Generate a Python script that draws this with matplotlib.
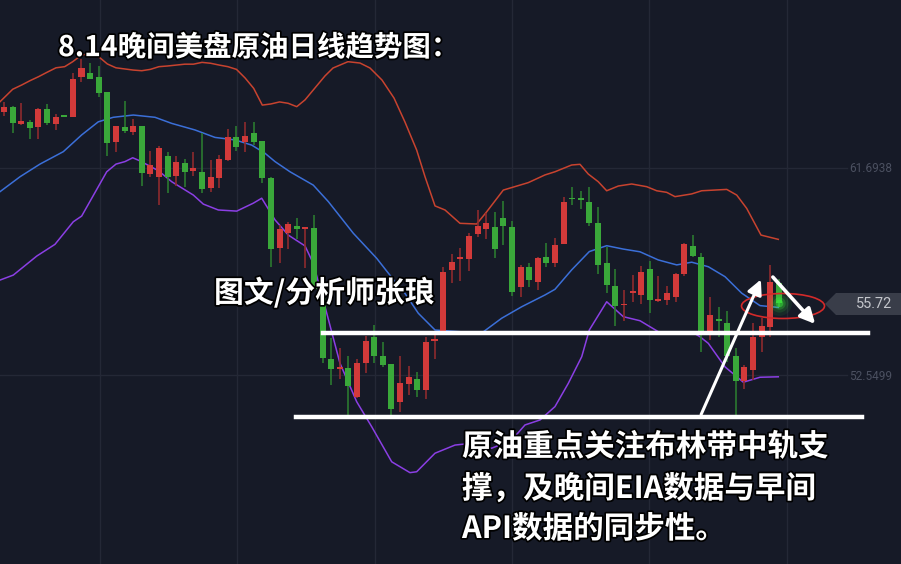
import numpy as np
import matplotlib
matplotlib.use("Agg")
import matplotlib.pyplot as plt
from matplotlib.patches import Ellipse, Polygon, FancyArrowPatch
import matplotlib.patheffects as pe

plt.rcParams['font.family'] = ['Noto Sans CJK SC', 'DejaVu Sans']

# ---------------- data ----------------
opens = [64.17, 64.42, 63.67, 63.74, 63.51, 64.30, 63.64, 64.01, 63.98, 65.72,
         65.90, 65.75, 65.08, 62.87, 63.53, 63.29, 63.58, 61.44, 61.31, 62.24,
         61.37, 61.94, 61.59, 61.54, 60.81, 61.25, 62.06, 63.09, 62.84, 63.24,
         62.91, 61.25, 58.15, 58.85, 59.15, 59.01, 59.07, 56.46, 53.25, 52.81,
         52.87, 51.59, 53.07, 54.24, 53.40, 53.02, 51.37, 52.15, 52.37, 51.89,
         54.05, 54.32, 57.20, 57.68, 57.67, 58.77, 58.99, 59.11, 59.51, 59.11,
         56.46, 57.34, 56.68, 57.76, 57.52, 58.34, 60.39, 60.39, 60.22, 59.26,
         57.49, 56.50, 55.63, 56.18, 56.09, 57.22, 55.82, 55.87, 55.99, 57.00,
         58.27, 57.78, 54.50, 55.03, 54.87, 53.39, 52.30, 52.77, 54.22, 54.69,
         56.61]
highs = [64.61, 64.45, 64.58, 63.83, 64.34, 64.54, 64.10, 64.03, 65.91, 66.53,
         66.37, 66.22, 65.08, 63.58, 64.67, 63.87, 63.58, 62.46, 62.68, 62.40,
         62.24, 62.12, 62.40, 63.24, 62.06, 62.28, 63.43, 63.56, 63.76, 63.76,
         62.91, 61.32, 59.19, 59.32, 59.48, 59.10, 59.63, 56.46, 54.17, 53.73,
         53.39, 53.25, 54.28, 54.76, 54.00, 53.02, 53.40, 52.95, 52.67, 54.22,
         54.32, 57.34, 57.90, 58.15, 58.82, 59.85, 59.70, 59.77, 60.25, 59.36,
         57.42, 57.49, 57.76, 58.38, 58.60, 60.44, 60.88, 60.69, 60.88, 60.00,
         58.23, 57.24, 56.31, 56.97, 57.37, 57.59, 56.93, 56.49, 57.08, 58.38,
         58.74, 57.93, 55.99, 55.57, 55.38, 53.73, 53.00, 54.86, 55.06, 57.42,
         56.78]
lows = [64.01, 63.27, 63.61, 63.00, 62.98, 63.62, 63.39, 63.95, 63.98, 65.51,
        65.63, 64.86, 62.25, 62.43, 63.27, 63.17, 60.91, 61.30, 60.05, 60.62,
        60.91, 60.88, 61.35, 60.61, 60.66, 60.84, 62.02, 62.47, 62.43, 62.72,
        61.03, 57.33, 57.49, 58.11, 58.55, 57.27, 56.35, 53.07, 52.11, 52.36,
        50.70, 51.52, 52.63, 53.07, 52.89, 50.75, 50.93, 51.66, 51.59, 51.47,
        53.24, 54.32, 56.63, 56.72, 57.16, 58.64, 58.57, 57.74, 58.30, 56.06,
        56.01, 56.46, 56.31, 57.31, 57.31, 58.34, 60.07, 59.89, 59.15, 57.02,
        56.19, 54.73, 54.95, 55.79, 55.69, 55.31, 55.79, 55.65, 55.79, 56.94,
        57.78, 53.58, 54.10, 54.22, 53.13, 50.65, 51.93, 52.33, 53.55, 54.22,
        55.57]
closes = [64.42, 63.68, 63.79, 63.46, 64.30, 63.68, 63.98, 63.98, 65.63, 66.12,
          65.64, 65.01, 62.80, 63.58, 63.36, 63.58, 61.47, 61.84, 62.58, 61.32,
          61.96, 61.52, 61.69, 60.77, 61.30, 62.09, 63.07, 62.62, 63.14, 62.87,
          61.25, 58.14, 59.01, 59.23, 58.99, 59.07, 56.35, 53.29, 52.80, 52.89,
          52.06, 53.07, 54.07, 53.39, 52.99, 51.05, 52.18, 52.48, 51.89, 54.02,
          54.10, 57.12, 57.56, 57.71, 58.71, 59.14, 59.26, 58.12, 59.14, 56.23,
          57.34, 56.75, 57.71, 57.52, 58.30, 60.22, 60.32, 60.29, 59.26, 57.42,
          56.53, 55.60, 55.68, 56.22, 57.12, 55.87, 55.87, 56.16, 57.02, 58.33,
          57.81, 54.42, 55.20, 54.94, 53.39, 52.29, 52.92, 54.24, 54.73, 56.68,
          55.72]

# Bollinger band lines (position in candle index, price)
upper_idx = [-0.46, 1.01, 2.06, 3.02, 4.03, 4.99, 6.04, 7.05, 7.98, 9.02, 9.99, 11.0,
             12.0, 13.0, 14.0, 15.0, 16.0, 17.0, 18.0, 19.0, 20.0, 21.0, 22.0, 23.0,
             24.0, 25.0, 26.0, 27.0, 28.0, 29.0, 30.0, 31.0, 32.0, 33.0, 34.0, 34.96,
             36.12, 37.28, 38.21, 39.95, 41.35, 42.51, 43.90, 45.30, 46.57, 47.93,
             48.9, 50.06, 51.22, 52.96, 54.90, 56.06, 57.99, 60.89, 62.83, 63.99,
             65.93, 66.90, 67.86, 69.02, 70.0, 71.35, 72.90, 74.65, 75.81, 76.97,
             77.93, 79.87, 81.03, 83.94, 85.10, 86.26, 87.92, 89.93]
upper_val = [64.64, 65.19, 65.38, 65.57, 65.75, 65.94, 66.14, 66.19, 66.41, 66.71, 66.75, 66.63,
             66.31, 66.14, 66.09, 66.04, 66.01, 66.07, 66.19, 66.22, 66.26, 66.30, 66.30, 66.38,
             66.34, 66.26, 66.19, 66.07, 65.69, 65.23, 64.49, 64.54, 64.63, 64.57, 64.42, 64.72,
             65.25, 65.78, 66.13, 66.41, 66.35, 66.13, 65.60, 64.80, 63.74, 62.50,
             61.32, 60.03, 59.85, 59.26, 59.23, 59.77, 60.73, 61.06, 61.40, 61.54,
             61.84, 61.87, 61.44, 61.10, 60.70, 60.91, 61.00, 60.88, 60.70, 60.63,
             60.44, 60.56, 60.70, 60.76, 60.51, 59.92, 58.74, 58.55]
mid_idx = [-0.46, 1.86, 4.18, 6.89, 9.02, 10.95, 12.69, 15.02, 17.54, 19.48, 22.18, 24.51,
           26.83, 28.77, 30.31, 31.48, 33.22, 35.92, 37.67, 40.57, 43.29, 45.41, 46.57,
           48.12, 50.06, 53.16, 55.67, 57.80, 60.13, 62.83, 63.99, 65.93, 67.98, 70.0,
           71.93, 73.87, 75.99, 78.13, 79.87, 81.80, 83.74, 85.68, 87.80, 89.93]
mid_val = [60.66, 61.32, 61.88, 62.43, 63.17, 63.75, 63.95, 64.05, 63.95, 63.68, 63.39, 63.06,
           62.95, 62.72, 62.36, 61.99, 61.54, 60.95, 60.22, 58.82, 57.71, 56.68, 56.16,
           55.28, 54.54, 54.46, 54.46, 55.06, 55.57, 56.09, 56.34, 57.20, 58.01, 58.27,
           58.12, 58.00, 57.64, 57.42, 57.54, 57.34, 56.90, 56.17, 55.62, 55.54]
lower_idx = [-0.46, 1.08, 3.80, 5.92, 8.05, 9.02, 10.95, 11.93, 13.01, 14.05, 14.95, 15.80,
             17.92, 19.48, 21.99, 23.15, 24.89, 27.03, 28.95, 29.93, 31.48, 33.02, 34.96,
             35.92, 37.08, 39.02, 40.96, 42.71, 45.03, 47.15, 47.93, 50.06, 52.38, 54.32,
             56.64, 58.97, 60.51, 62.25, 63.99, 65.54, 67.10, 67.98, 70.0, 71.93, 73.87,
             76.19, 77.93, 79.87, 80.84, 81.80, 83.74, 85.87, 87.80, 89.93]
lower_val = [56.75, 56.97, 57.81, 58.33, 59.33, 59.58, 60.88, 61.54, 61.88, 61.99, 62.16, 62.02,
             61.59, 61.10, 60.51, 60.11, 59.85, 59.80, 60.15, 60.37, 59.41, 58.74, 58.26,
             57.49, 55.87, 53.07, 51.37, 50.26, 48.71, 48.23, 48.27, 49.09, 49.45, 49.53,
             49.31, 49.67, 50.34, 50.56, 51.15, 52.18, 53.36, 54.54, 55.79, 55.13, 54.95,
             54.42, 54.46, 54.46, 54.24, 53.95, 52.91, 52.23, 52.45, 52.47]

axis_labels = [61.6938, 52.5499]
last_price = 55.72
support_levels = [54.41, 50.69]

title = "8.14晚间美盘原油日线趋势图："
author = "图文/分析师张琅"
note_lines = ["原油重点关注布林带中轨支", "撑，及晚间EIA数据与早间", "API数据的同步性。"]

# ---------------- layout helpers ----------------
W, H = 901, 564
X0, DX = 4.0, 8.61          # pixel x of candle 0, pixel spacing
def px_x(x):
    return (x - X0) / DX
def px_y(y):
    return 69.139 - 0.044238 * y
def fx(x):
    return x / W
def fy(y):
    return 1 - y / H

BG = '#161a27'
GRID = '#242836'
UP_BODY, UP_WICK = '#d23a3a', '#8e2a2e'
DN_BODY, DN_WICK = '#3aa83a', '#2b7a30'

fig = plt.figure(figsize=(W / 100, H / 100), dpi=100, facecolor=BG)
ax = fig.add_axes([0, 0, 1, 1])
ax.set_facecolor(BG)
ax.set_xlim(px_x(0), px_x(W))
ax.set_ylim(px_y(H), px_y(0))
ax.axis('off')

# grid
for gx in [100, 237, 375, 512, 649, 787]:
    ax.axvline(px_x(gx), color=GRID, lw=1, zorder=0)
for lv in axis_labels:
    ax.axhline(lv, xmin=0, xmax=847 / W, color=GRID, lw=1, zorder=0)

# bands
ax.plot(upper_idx, upper_val, color='#c8432f', lw=1.1, zorder=2)
ax.plot(mid_idx, mid_val, color='#3b6fd8', lw=1.1, zorder=2)
ax.plot(lower_idx, lower_val, color='#8b3fe4', lw=1.1, zorder=2)

# candles
o = np.array(opens); c = np.array(closes); h = np.array(highs); l = np.array(lows)
idx = np.arange(len(o))
up = c >= o
body_lo = np.minimum(o, c)
body_h = np.maximum(np.abs(c - o), 0.08)
ax.vlines(idx[up], l[up], h[up], color=UP_WICK, lw=1.2, zorder=3)
ax.vlines(idx[~up], l[~up], h[~up], color=DN_WICK, lw=1.2, zorder=3)
ax.bar(idx[up], body_h[up], bottom=body_lo[up], width=0.7, color=UP_BODY, zorder=4)
ax.bar(idx[~up], body_h[~up], bottom=body_lo[~up], width=0.7, color=DN_BODY, zorder=4)

# glow on last candle
for s, a in [(320, 0.07), (170, 0.12), (80, 0.22), (30, 0.4)]:
    ax.scatter([idx[-1]], [last_price], s=s, color='#3cff3c', alpha=a, lw=0, zorder=5)

# support lines
ax.plot([px_x(323), px_x(868)], [support_levels[0]] * 2, color='white', lw=3.2, zorder=6)
ax.plot([px_x(296), px_x(862)], [support_levels[1]] * 2, color='white', lw=3.2, zorder=6)

# red ellipse
ax.add_patch(Ellipse((px_x(783), px_y(306)), 83 / DX, 25 * 0.044238,
                     fill=False, ec='#d42a2a', lw=1.2, zorder=6))

# arrows (figure pixel geometry)
a1 = FancyArrowPatch((fx(700), fy(417)), (fx(762), fy(277)), transform=fig.transFigure,
                     arrowstyle='-|>', mutation_scale=22, color='white', lw=2.2, zorder=7)
a2 = FancyArrowPatch((fx(771), fy(275)), (fx(817), fy(326)), transform=fig.transFigure,
                     arrowstyle='-|>', mutation_scale=22, color='white', lw=2.6, zorder=7)
fig.patches.extend([a1, a2])

# price tag
tag = Polygon([(fx(825), fy(304)), (fx(836), fy(293)), (fx(901), fy(293)),
               (fx(901), fy(315)), (fx(836), fy(315))], closed=True,
              transform=fig.transFigure, fc='#393d49', ec='none', zorder=7)
fig.patches.append(tag)
fig.text(fx(892), fy(304), f"{last_price:.2f}", color='#c4c6cc', fontsize=10.5,
         ha='right', va='center', family=['Roboto', 'DejaVu Sans'], zorder=9)
for lv, yy in zip(axis_labels, [169, 376]):
    fig.text(fx(892), fy(yy), f"{lv:.4f}", color='#4b5060', fontsize=8.5,
             ha='right', va='center', family=['Roboto', 'DejaVu Sans'], zorder=9)

# texts
stroke = [pe.withStroke(linewidth=2.5, foreground='black')]
fig.text(fx(58), fy(48), title, color='white', fontsize=20.5, fontweight='bold',
         ha='left', va='center', path_effects=stroke, zorder=9)
fig.text(fx(214), fy(293), author, color='white', fontsize=21.5, fontweight='bold',
         ha='left', va='center', path_effects=stroke, zorder=9)
for line, yy in zip(note_lines, [447, 489, 529]):
    fig.text(fx(462), fy(yy), line, color='white', fontsize=22, fontweight='bold',
             ha='left', va='center', path_effects=stroke, zorder=9)

fig.savefig('out.png', dpi=100, facecolor=BG)
